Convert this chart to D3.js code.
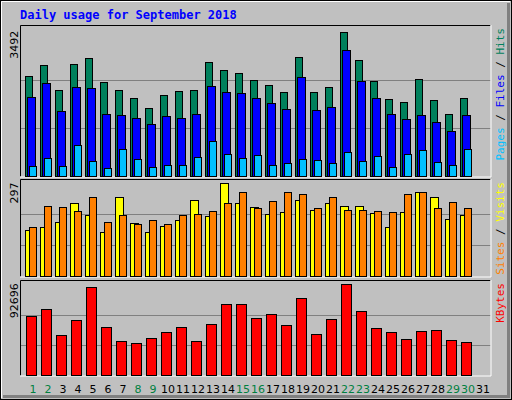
<!DOCTYPE html>
<html><head><meta charset="utf-8">
<script src="https://cdn.jsdelivr.net/npm/d3@7"></script>
<style>body{margin:0;background:#fff}svg{display:block}</style>
</head><body><svg id="c" width="512" height="400"></svg>
<script>
const days = d3.range(1, 32);
const weekend = [1,2,8,9,15,16,22,23,29,30];
const hits = [2421,2682,2087,2706,2849,2278,2087,1897,1659,1968,2063,2087,2754,2563,2492,2325,2206,2040,2896,2040,2159,3492,2801,2301,1873,1802,2349,1849,1516,1897,0];
const files = [1921,2254,1587,2159,2135,1516,1492,1421,1278,1468,1421,1516,2182,2040,2016,1897,1778,1635,2397,1611,1683,3063,2301,1897,1516,1397,1492,1326,1088,1492,0];
const pages = [255,445,255,754,374,207,659,421,231,278,278,469,850,540,445,516,278,326,421,397,326,588,374,493,231,540,635,350,278,659,0];
const visits = [149,159,175,236,197,143,255,172,143,162,181,245,194,297,233,223,200,207,245,213,233,226,226,204,159,207,271,252,184,197,0];
const sites = [159,226,223,210,255,175,197,168,181,168,197,200,210,236,268,220,242,271,262,220,255,213,213,210,207,262,271,217,239,217,0];
const kbytes = [60217,67322,40934,56158,89650,49054,34845,32815,37890,43979,49054,34845,52098,72396,72396,58188,62247,51083,78486,41949,57173,92696,65292,48039,43979,36875,44994,46009,35860,33830,0];
const maxLabels = ["3492","297","92696"];

const svg = d3.select("#c");
const BG="#C0C0C0", GRID="#808080";
svg.append("rect").attr("width",512).attr("height",400).attr("fill",BG);
// outer frame
svg.append("rect").attr("x",0.5).attr("y",0.5).attr("width",511).attr("height",399).attr("fill","none").attr("stroke","#000");
svg.append("path").attr("d","M1.5,398V1.5H510").attr("stroke","#fff").attr("fill","none");
svg.append("path").attr("d","M508.5,3V396.5H3").attr("stroke","#808080").attr("stroke-width",3).attr("fill","none");

svg.append("text").attr("x",20).attr("y",19).attr("font-family","DejaVu Sans Mono, monospace").attr("font-weight","bold").attr("font-size",12).attr("fill","#0000FF").text("Daily usage for September 2018");

const x = d3.scaleBand().domain(days).range([20, 485]).padding(0);
const L=20, R=490.5;

function panel(top, bottom, maxV, maxLabel, legend){
  const y = d3.scaleLinear().domain([0,maxV]).range([bottom, bottom-(bottom-top)*0.955]);
  const g = svg.append("g");
  [maxV/3, 2*maxV/3].forEach(v=>{
    g.append("line").attr("x1",L).attr("x2",R).attr("y1",Math.round(y(v))+0.5).attr("y2",Math.round(y(v))+0.5).attr("stroke",GRID);
  });
  g.append("path").attr("d",`M${L+0.5},${bottom}V${top+0.5}H${R}`).attr("stroke","#000").attr("fill","none");
  g.append("path").attr("d",`M${R+0.5},${top}V${bottom+0.5}H${L}`).attr("stroke","#fff").attr("fill","none");
  g.append("text").attr("transform",`translate(18,${y(maxV)-1}) rotate(-90)`).attr("text-anchor","end")
    .attr("font-family","DejaVu Sans, sans-serif").attr("font-size",11).attr("fill","#000").text(maxLabel);
  const lt = g.append("text").attr("transform",`translate(496,${top+3}) rotate(90)`)
    .attr("font-family","DejaVu Sans Mono, monospace").attr("font-size",11);
  legend.forEach((p,i)=>{ lt.append("tspan").attr("fill",p[1]).text(p[0]); });
  return {y,g};
}
function bars(p, data, color, off, w){
  p.g.selectAll(null).data(days).join("rect")
    .filter(d=>data[d-1]>0)
    .attr("x",d=>x(d)+off+0.5).attr("width",w)
    .attr("y",d=>Math.round(p.y(data[d-1]))+0.5).attr("height",d=>p.y(0)-Math.round(p.y(data[d-1]))-0.5)
    .attr("fill",color).attr("stroke","#000");
}
const p1 = panel(25, 176.5, 3492, maxLabels[0], [["Hits","#00805C"],[" / ","#000"],["Files","#0000FF"],[" / ","#000"],["Pages","#00C0FF"]]);
bars(p1, hits, "#00805C", 5, 7);
bars(p1, files, "#0000FF", 7, 8);
bars(p1, pages, "#00C0FF", 9, 7);
const p2 = panel(179, 276.5, 297, maxLabels[1], [["Visits","#FFFF00"],[" / ","#000"],["Sites","#FF8000"]]);
bars(p2, visits, "#FFFF00", 5, 8);
bars(p2, sites, "#FF8000", 9, 7);
const p3 = panel(280, 375.5, 92696, maxLabels[2], [["KBytes","#FF0000"]]);
bars(p3, kbytes, "#FF0000", 6, 10);
// right legends: flip so they read from bottom; reposition to end at bottom
svg.selectAll("text").filter(function(){return this.getAttribute("transform") && this.getAttribute("transform").includes("rotate(90)");})
  .each(function(){
    const t=d3.select(this); const tr=t.attr("transform"); const m=tr.match(/translate\(([\d.]+),([\d.]+)\)/);
    t.attr("transform",`translate(${+m[1]+8},${m[2]}) rotate(-90)`).attr("text-anchor","end");
  });
// fix legend anchor: reversed reading means text reads bottom to top ending at top
svg.selectAll("text").filter(function(){return (this.getAttribute("transform")||"").includes(",") && this.getAttribute("text-anchor")==="end" && +this.getAttribute("transform").match(/translate\(([\d.]+)/)[1]>400;})
  .each(function(){
    const t=d3.select(this); const tsp=t.selectAll("tspan").nodes().reverse();
    tsp.forEach(n=>this.appendChild(n));
  });
svg.append("g").selectAll("text").data(days).join("text")
  .attr("x",d=>x(d)+13).attr("y",393).attr("text-anchor","middle")
  .attr("font-family","DejaVu Sans, sans-serif").attr("font-size",11)
  .attr("fill",d=>weekend.includes(d)?"#008040":"#000").text(d=>d);
</script></body></html>
